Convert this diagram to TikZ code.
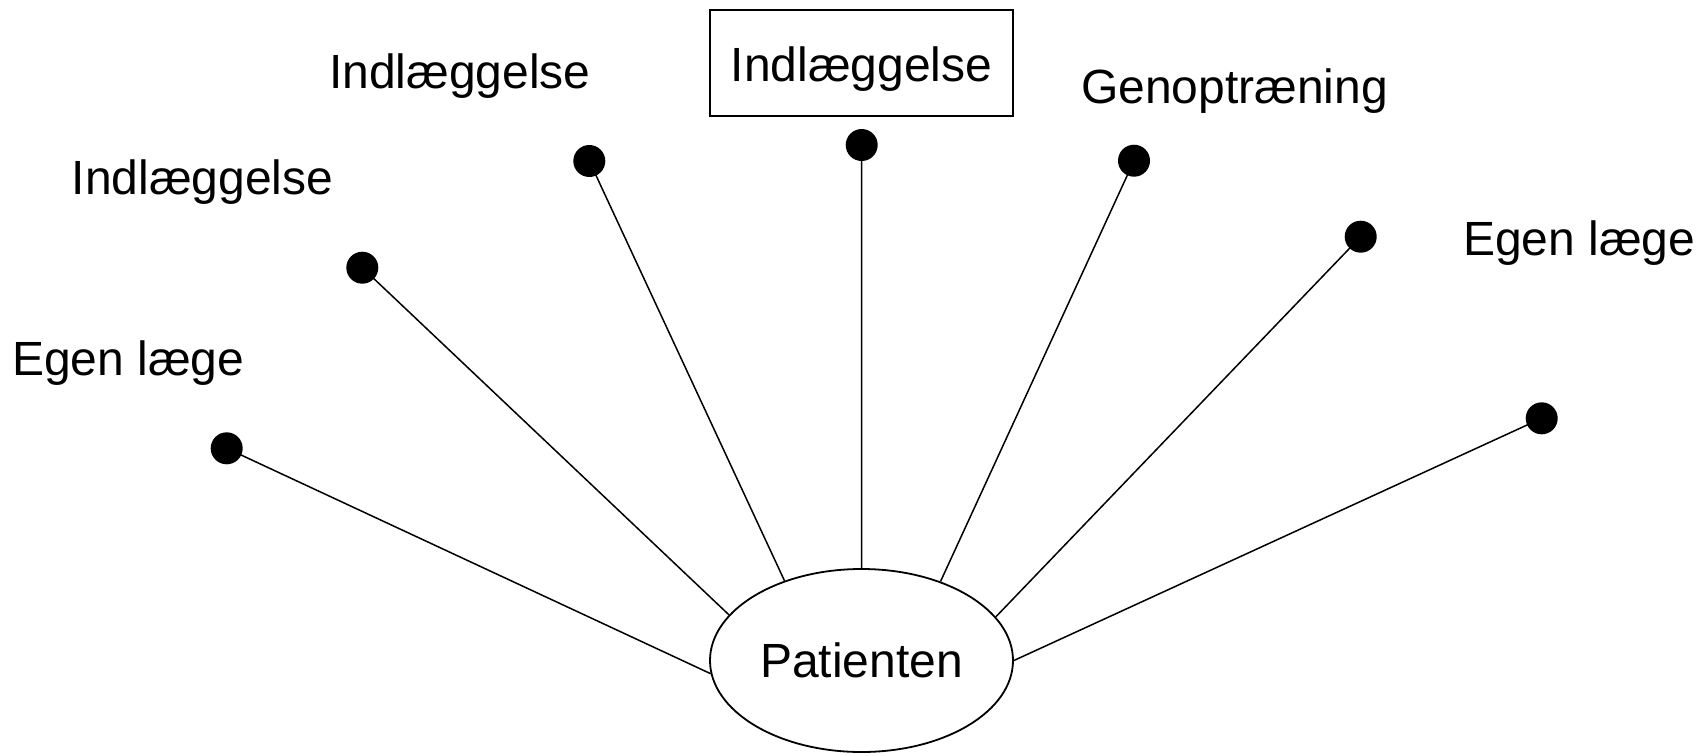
\documentclass[tikz,border=0pt]{standalone}
\usepackage{fontspec}
\setmainfont{Liberation Sans}
\usetikzlibrary{shapes.geometric}
\begin{document}
\begin{tikzpicture}[x=1pt,y=-1pt,
  every node/.style={font=\fontsize{48}{57}\selectfont},
  lbl/.style={anchor=base west,inner sep=0pt},
  dotnode/.style={circle,fill=black,minimum size=32pt,inner sep=0pt},
  spoke/.style={line width=1.5pt},
  frame/.style={line width=1.8pt}]
\useasboundingbox (0,0) rectangle (1708,755);
\node[ellipse,draw,frame,minimum width=303pt,minimum height=183pt,inner sep=0pt] (pat) at (861.5,660.5) {Patienten};
\node[draw,line width=1.5pt,minimum width=303pt,minimum height=106pt,inner sep=0pt,text height=36pt,text depth=0pt] (box) at (861.5,63) {Indlæggelse};
\node[dotnode] (d1) at (226.7,448.3) {};
\node[dotnode] (d2) at (362.3,267.7) {};
\node[dotnode] (d3) at (589.3,161) {};
\node[dotnode] (d4) at (861.7,145) {};
\node[dotnode] (d5) at (1134,160.7) {};
\node[dotnode] (d6) at (1360.7,236.7) {};
\node[dotnode] (d7) at (1541.7,418.3) {};
\draw[spoke] (d1.center) -- (pat.185.5);
\draw[spoke] (d2.center) -- (pat.161.7);
\draw[spoke] (d3.center) -- (pat.134.7);
\draw[spoke] (d4.center) -- (pat.90);
\draw[spoke] (d5.center) -- (pat.45.2);
\draw[spoke] (d6.center) -- (pat.18.3);
\draw[spoke] (d7.center) -- (pat.0.5);
\node[lbl] (t1) at (12,375) {Egen læge};
\node[lbl] (t2) at (71.5,194) {Indlæggelse};
\node[lbl] (t3) at (329,88.3) {Indlæggelse};
\node[lbl] (t5) at (1081,103.3) {Genoptræning};
\node[lbl] (t6) at (1463,255) {Egen læge};
\end{tikzpicture}
\end{document}
